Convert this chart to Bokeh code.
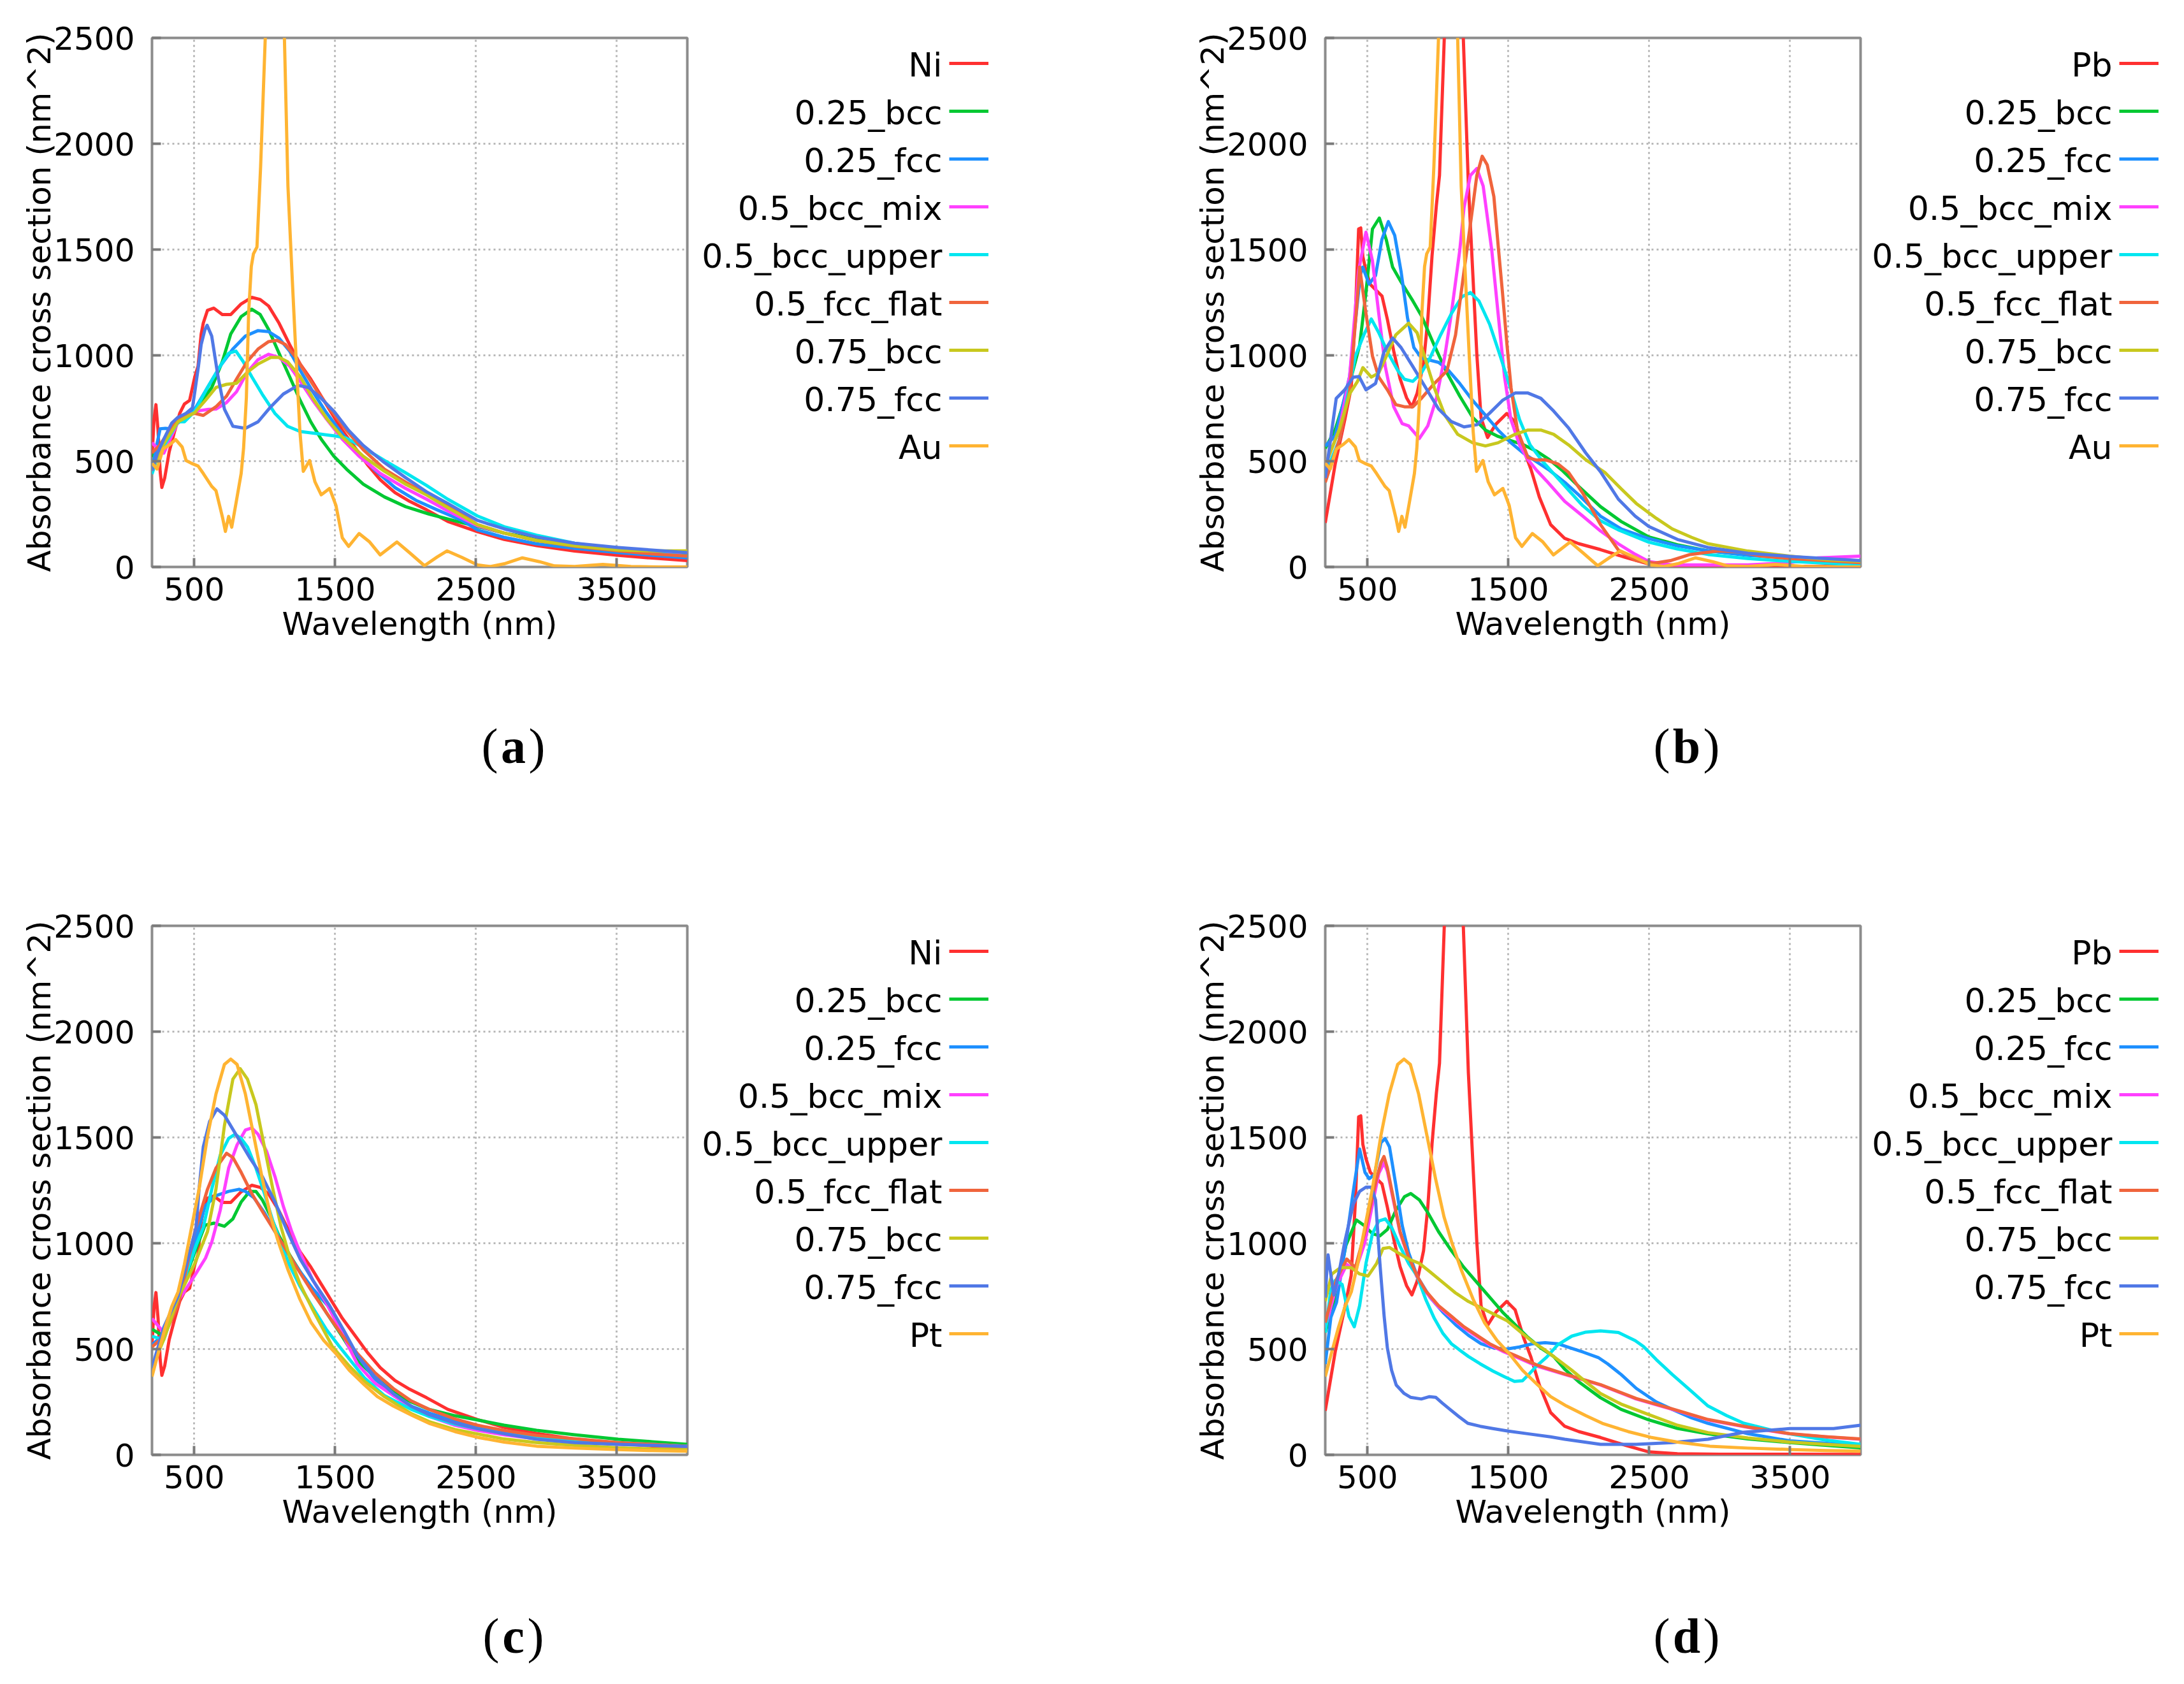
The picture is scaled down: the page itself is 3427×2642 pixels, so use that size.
from bokeh.plotting import figure
from bokeh.models import Range1d, FixedTicker, Legend, LegendItem, Label
from bokeh.core.properties import value
from bokeh.layouts import column, row
from bokeh.embed import file_html
from bokeh.resources import INLINE

# ---------------- data ----------------
X_TICKS = [500, 1500, 2500, 3500]
Y_TICKS = [0, 500, 1000, 1500, 2000, 2500]
ALLOY_NAMES = ["0.25_bcc", "0.25_fcc", "0.5_bcc_mix", "0.5_bcc_upper", "0.5_fcc_flat", "0.75_bcc", "0.75_fcc"]
PANEL_LETTERS = ["a", "b", "c", "d"]
BASE_NAMES = ["Ni", "Pb", "Ni", "Pb"]
NOBLE_NAMES = ["Au", "Au", "Pt", "Pt"]

NI_X = [200, 215, 228, 243, 258, 270, 290, 322, 360, 397, 430, 467, 504, 527, 549, 564, 594, 639, 699, 759, 833, 908, 968, 1028, 1102, 1177, 1252, 1327, 1401, 1476, 1551, 1641, 1730, 1820, 1925, 2029, 2149, 2300, 2510, 2700, 2930, 3200, 3510, 3750, 4000]
NI_Y = [520, 700, 767, 645, 450, 376, 420, 544, 640, 726, 770, 787, 899, 949, 1100, 1152, 1213, 1223, 1193, 1193, 1243, 1274, 1264, 1233, 1152, 1051, 959, 888, 807, 726, 645, 564, 483, 412, 351, 310, 270, 215, 167, 130, 101, 75, 55, 42, 30]

PB_X = [200, 271, 340, 384, 414, 437, 452, 467, 489, 520, 565, 603, 641, 686, 731, 777, 815, 852, 898, 928, 958, 989, 1011, 1045, 1100, 1180, 1216, 1246, 1276, 1306, 1352, 1412, 1488, 1548, 1609, 1660, 1720, 1800, 1900, 2000, 2154, 2332, 2497, 2700, 3000, 3500, 4000]
PB_Y = [208, 488, 700, 847, 1197, 1597, 1602, 1467, 1400, 1335, 1305, 1280, 1170, 1020, 890, 800, 756, 820, 965, 1170, 1470, 1710, 1850, 2500, 3400, 2500, 1805, 1405, 1005, 705, 612, 675, 725, 685, 552, 462, 330, 200, 135, 110, 82, 45, 14, 5, 3, 3, 2]

AU_X = [200, 236, 278, 330, 368, 414, 442, 480, 527, 564, 624, 654, 684, 702, 721, 744, 766, 796, 833, 850, 870, 886, 905, 920, 945, 971, 1004, 1050, 1090, 1140, 1165, 1195, 1222, 1250, 1274, 1319, 1357, 1401, 1461, 1506, 1551, 1596, 1670, 1745, 1820, 1939, 2029, 2134, 2224, 2294, 2400, 2510, 2600, 2700, 2829, 2950, 3057, 3200, 3400, 3600, 3800, 4000]
AU_Y = [490, 463, 557, 580, 602, 567, 503, 490, 477, 442, 381, 361, 280, 230, 168, 239, 188, 300, 442, 560, 800, 1200, 1420, 1479, 1512, 1891, 2500, 3300, 3600, 2500, 1800, 1370, 1000, 640, 452, 503, 402, 341, 371, 290, 138, 97, 158, 118, 57, 118, 67, 6, 47, 76, 45, 10, 2, 15, 43, 25, 5, 2, 12, 2, 0, 0]

PT_X = [200, 240, 295, 340, 385, 430, 475, 534, 594, 654, 714, 759, 804, 863, 923, 983, 1043, 1100, 1165, 1250, 1330, 1420, 1505, 1600, 1709, 1800, 1912, 2050, 2167, 2350, 2510, 2700, 2930, 3200, 3510, 3750, 4000]
PT_Y = [370, 470, 605, 700, 770, 900, 1055, 1255, 1505, 1705, 1845, 1870, 1845, 1705, 1505, 1305, 1125, 1000, 875, 735, 625, 540, 479, 400, 330, 275, 231, 185, 149, 110, 83, 60, 41, 32, 25, 20, 17]

# panel (a): Ni-Au alloys
A_BCC25_X = [200, 250, 300, 385, 450, 513, 560, 624, 699, 759, 833, 908, 968, 1028, 1102, 1177, 1252, 1327, 1401, 1491, 1581, 1700, 1850, 2000, 2167, 2350, 2510, 2700, 2930, 3200, 3510, 3750, 4000]
A_BCC25_Y = [521, 560, 620, 686, 715, 740, 790, 848, 970, 1101, 1183, 1218, 1193, 1122, 1010, 899, 787, 686, 604, 523, 462, 391, 331, 285, 250, 218, 191, 160, 134, 108, 84, 70, 59]
A_FCC25_X = [200, 236, 258, 295, 335, 414, 504, 594, 684, 774, 863, 953, 1028, 1102, 1177, 1252, 1342, 1431, 1521, 1626, 1775, 1925, 2074, 2224, 2400, 2510, 2700, 2930, 3200, 3510, 3750, 4000]
A_FCC25_Y = [455, 584, 653, 655, 653, 696, 746, 848, 949, 1030, 1091, 1117, 1112, 1081, 1020, 929, 828, 736, 655, 564, 462, 375, 315, 270, 220, 175, 140, 109, 88, 68, 55, 43]
A_MIX_X = [200, 240, 284, 385, 513, 600, 654, 729, 800, 875, 953, 1028, 1102, 1177, 1252, 1342, 1431, 1551, 1670, 1820, 2000, 2149, 2300, 2510, 2700, 2930, 3200, 3510, 3750, 4000]
A_MIX_Y = [587, 560, 538, 686, 736, 745, 746, 777, 828, 919, 980, 1005, 990, 949, 878, 787, 706, 604, 523, 442, 371, 320, 265, 195, 160, 125, 102, 84, 74, 68]
A_UP_X = [200, 240, 284, 385, 430, 504, 594, 684, 744, 796, 848, 908, 982, 1072, 1162, 1252, 1371, 1491, 1581, 1700, 1850, 2000, 2149, 2300, 2510, 2700, 2930, 3200, 3510, 3750, 4000]
A_UP_Y = [439, 520, 571, 686, 686, 736, 848, 949, 1010, 1020, 970, 899, 817, 726, 665, 640, 630, 620, 609, 564, 503, 445, 385, 320, 241, 190, 150, 112, 84, 65, 51]
A_FLAT_X = [200, 250, 300, 385, 450, 504, 564, 654, 729, 800, 875, 953, 1028, 1087, 1147, 1222, 1297, 1386, 1476, 1581, 1700, 1850, 2000, 2149, 2300, 2510, 2700, 2930, 3200, 3510, 3750, 4000]
A_FLAT_Y = [540, 571, 620, 703, 715, 726, 716, 757, 807, 888, 970, 1030, 1065, 1071, 1051, 990, 909, 817, 736, 645, 554, 462, 401, 345, 290, 200, 160, 125, 98, 76, 62, 51]
A_B75_X = [200, 250, 300, 385, 450, 504, 579, 654, 729, 800, 875, 953, 1043, 1102, 1162, 1252, 1342, 1446, 1551, 1700, 1850, 2000, 2149, 2300, 2510, 2700, 2930, 3200, 3510, 3750, 4000]
A_B75_Y = [455, 540, 600, 686, 710, 730, 787, 848, 863, 868, 919, 959, 990, 990, 970, 899, 797, 696, 614, 523, 452, 391, 340, 280, 200, 160, 125, 100, 80, 76, 76]
A_F75_X = [200, 240, 284, 340, 382, 442, 487, 504, 530, 549, 575, 591, 624, 669, 714, 774, 863, 953, 1043, 1132, 1237, 1312, 1401, 1491, 1596, 1700, 1850, 2000, 2149, 2300, 2510, 2700, 2930, 3200, 3510, 3750, 4000]
A_F75_Y = [455, 540, 604, 680, 706, 726, 752, 828, 950, 1051, 1120, 1142, 1091, 899, 746, 665, 655, 686, 757, 817, 858, 848, 797, 736, 645, 574, 493, 422, 355, 300, 220, 180, 142, 112, 92, 80, 68]

# panel (b): Pb-Au alloys
B_BCC25_X = [200, 271, 373, 444, 489, 535, 584, 633, 678, 738, 822, 883, 974, 1064, 1155, 1246, 1337, 1427, 1518, 1609, 1700, 1791, 1881, 2000, 2154, 2300, 2497, 2700, 2917, 3200, 3498, 3750, 4000]
B_BCC25_Y = [560, 650, 868, 1047, 1297, 1597, 1649, 1547, 1417, 1347, 1257, 1187, 1047, 917, 807, 707, 647, 617, 597, 577, 547, 507, 457, 380, 285, 215, 142, 105, 76, 58, 43, 34, 26]
B_FCC25_X = [200, 271, 373, 449, 466, 511, 557, 602, 648, 693, 738, 784, 829, 883, 943, 1004, 1064, 1155, 1246, 1337, 1427, 1518, 1609, 1700, 1791, 1900, 2000, 2154, 2300, 2497, 2700, 2917, 3200, 3498, 3750, 4000]
B_FCC25_Y = [571, 620, 900, 1380, 1417, 1337, 1377, 1547, 1632, 1567, 1397, 1177, 1037, 987, 977, 967, 937, 867, 787, 717, 647, 587, 537, 497, 457, 400, 340, 240, 180, 134, 100, 76, 55, 43, 35, 20]
B_MIX_X = [200, 300, 373, 436, 489, 535, 580, 626, 686, 746, 792, 868, 928, 989, 1049, 1095, 1155, 1185, 1230, 1276, 1321, 1382, 1427, 1473, 1518, 1579, 1639, 1700, 1772, 1900, 2027, 2154, 2281, 2400, 2497, 2663, 2900, 3200, 3500, 3694, 4000]
B_MIX_Y = [480, 650, 901, 1396, 1582, 1447, 1197, 947, 757, 677, 667, 607, 667, 797, 997, 1197, 1497, 1697, 1850, 1883, 1800, 1497, 1197, 897, 697, 577, 507, 457, 406, 310, 241, 170, 109, 60, 26, 10, 10, 10, 20, 43, 51]
B_UP_X = [200, 300, 373, 414, 474, 527, 580, 641, 716, 762, 822, 883, 943, 1019, 1095, 1170, 1231, 1291, 1367, 1442, 1518, 1579, 1654, 1745, 1850, 2027, 2150, 2281, 2497, 2700, 2917, 3200, 3498, 3750, 4000]
B_UP_Y = [439, 600, 860, 997, 1097, 1172, 1107, 1017, 927, 887, 877, 917, 987, 1097, 1197, 1277, 1297, 1257, 1147, 997, 837, 697, 577, 497, 420, 290, 220, 175, 117, 85, 59, 40, 26, 18, 10]
B_FLAT_X = [200, 300, 373, 420, 444, 489, 535, 580, 641, 701, 762, 822, 883, 974, 1064, 1125, 1185, 1246, 1276, 1314, 1350, 1397, 1430, 1458, 1490, 1519, 1564, 1639, 1700, 1760, 1851, 1927, 2027, 2154, 2281, 2408, 2536, 2650, 2790, 2994, 3150, 3299, 3500, 3750, 4000]
B_FLAT_Y = [400, 600, 830, 1200, 1417, 1197, 997, 897, 837, 767, 757, 757, 797, 867, 927, 1097, 1397, 1697, 1850, 1941, 1900, 1750, 1500, 1297, 1050, 847, 647, 517, 505, 507, 487, 447, 350, 200, 80, 30, 18, 30, 59, 76, 70, 51, 40, 30, 20]
B_B75_X = [200, 300, 373, 429, 467, 527, 580, 641, 701, 792, 852, 913, 974, 1049, 1140, 1246, 1337, 1427, 1548, 1639, 1730, 1821, 1927, 2048, 2184, 2300, 2408, 2550, 2663, 2800, 2917, 3200, 3498, 3750, 4000]
B_B75_Y = [480, 650, 818, 877, 942, 897, 917, 1007, 1097, 1152, 1107, 977, 847, 717, 627, 587, 572, 587, 627, 647, 647, 627, 577, 507, 447, 370, 300, 230, 180, 140, 110, 75, 51, 35, 26]
B_F75_X = [200, 278, 338, 399, 440, 489, 557, 617, 678, 738, 822, 913, 1004, 1095, 1185, 1276, 1367, 1458, 1548, 1639, 1730, 1821, 1927, 2048, 2154, 2281, 2400, 2497, 2700, 2917, 3200, 3498, 3750, 4000]
B_F75_Y = [420, 797, 837, 897, 900, 837, 867, 1017, 1082, 1037, 947, 847, 747, 687, 662, 672, 727, 787, 822, 822, 797, 737, 657, 540, 450, 320, 240, 191, 130, 92, 65, 50, 40, 30]

# panel (c): Ni-Pt alloys
C_BCC25_X = [200, 284, 385, 450, 513, 576, 639, 714, 774, 833, 893, 938, 983, 1043, 1102, 1177, 1252, 1342, 1440, 1550, 1658, 1780, 1912, 2040, 2167, 2350, 2510, 2700, 2930, 3200, 3510, 3750, 4000]
C_BCC25_Y = [594, 561, 743, 860, 974, 1085, 1095, 1080, 1115, 1195, 1245, 1245, 1205, 1125, 1035, 945, 865, 775, 670, 560, 446, 370, 297, 250, 215, 185, 165, 140, 116, 95, 74, 62, 50]
C_FCC25_X = [200, 284, 385, 450, 513, 576, 654, 744, 818, 863, 923, 998, 1073, 1162, 1252, 1342, 1461, 1560, 1658, 1780, 1912, 2040, 2167, 2350, 2510, 2700, 2930, 3200, 3510, 3750, 4000]
C_FCC25_Y = [520, 570, 743, 880, 1023, 1175, 1225, 1245, 1255, 1245, 1215, 1145, 1055, 955, 865, 785, 695, 580, 470, 360, 281, 230, 198, 160, 132, 105, 83, 68, 58, 50, 41]
C_MIX_X = [200, 284, 385, 513, 580, 624, 684, 744, 804, 863, 908, 953, 1013, 1073, 1132, 1192, 1252, 1342, 1431, 1530, 1658, 1780, 1912, 2040, 2167, 2350, 2510, 2700, 2930, 3200, 3510, 3750, 4000]
C_MIX_Y = [644, 578, 726, 858, 930, 1005, 1155, 1355, 1465, 1535, 1545, 1515, 1435, 1315, 1175, 1055, 955, 825, 725, 600, 429, 340, 281, 225, 182, 140, 116, 95, 75, 62, 50, 45, 40]
C_UP_X = [200, 284, 385, 513, 564, 624, 684, 744, 789, 833, 878, 938, 998, 1058, 1117, 1177, 1252, 1342, 1440, 1530, 1709, 1850, 2040, 2167, 2350, 2510, 2700, 2930, 3200, 3510, 3750, 4000]
C_UP_Y = [560, 545, 743, 990, 1075, 1255, 1415, 1495, 1515, 1495, 1455, 1355, 1235, 1105, 995, 895, 795, 695, 590, 512, 363, 280, 215, 182, 145, 124, 105, 85, 70, 58, 50, 41]
C_FLAT_X = [200, 284, 385, 504, 594, 654, 729, 774, 833, 908, 998, 1073, 1147, 1237, 1342, 1440, 1550, 1658, 1780, 1912, 2040, 2167, 2350, 2510, 2700, 2930, 3200, 3510, 3750, 4000]
C_FLAT_Y = [510, 560, 706, 1055, 1255, 1355, 1425, 1405, 1335, 1235, 1135, 1055, 975, 875, 765, 670, 565, 479, 390, 314, 255, 215, 170, 140, 115, 92, 76, 58, 50, 41]
C_B75_X = [200, 284, 385, 504, 594, 654, 714, 774, 826, 878, 938, 998, 1058, 1117, 1177, 1252, 1342, 1480, 1600, 1709, 1850, 2040, 2167, 2350, 2510, 2700, 2930, 3200, 3510, 3750, 4000]
C_B75_Y = [415, 545, 740, 905, 1055, 1255, 1555, 1775, 1825, 1775, 1655, 1455, 1255, 1075, 935, 805, 685, 512, 420, 347, 275, 195, 157, 120, 99, 75, 58, 45, 33, 28, 25]
C_F75_X = [200, 284, 385, 513, 534, 564, 609, 661, 714, 804, 893, 983, 1073, 1162, 1252, 1342, 1461, 1560, 1658, 1780, 1912, 2040, 2167, 2350, 2510, 2700, 2930, 3200, 3510, 3750, 4000]
C_F75_Y = [410, 604, 750, 1073, 1255, 1455, 1575, 1635, 1605, 1505, 1405, 1315, 1195, 1055, 925, 825, 705, 590, 470, 370, 290, 230, 190, 150, 124, 100, 74, 58, 50, 45, 40]

# panel (d): Pb-Pt alloys
D_BCC25_X = [200, 271, 347, 421, 474, 535, 588, 641, 701, 762, 807, 868, 928, 1004, 1095, 1185, 1276, 1367, 1458, 1548, 1639, 1730, 1821, 1900, 2000, 2154, 2300, 2497, 2700, 2917, 3200, 3498, 3750, 4000]
D_BCC25_Y = [578, 743, 990, 1110, 1085, 1045, 1035, 1065, 1155, 1220, 1235, 1205, 1145, 1055, 965, 885, 815, 745, 675, 615, 555, 505, 465, 405, 345, 270, 215, 165, 125, 99, 75, 58, 45, 33]
D_FCC25_X = [200, 240, 280, 347, 399, 444, 482, 512, 550, 595, 625, 656, 701, 746, 792, 852, 943, 1034, 1125, 1216, 1306, 1397, 1488, 1579, 1670, 1761, 1851, 1942, 2033, 2138, 2205, 2300, 2408, 2550, 2663, 2800, 2917, 3200, 3498, 3750, 4000]
D_FCC25_Y = [429, 650, 720, 1000, 1245, 1445, 1335, 1305, 1325, 1475, 1495, 1455, 1275, 1085, 955, 845, 745, 675, 615, 565, 525, 505, 500, 510, 525, 530, 525, 505, 485, 460, 430, 380, 314, 250, 215, 175, 149, 100, 66, 55, 41]
D_MIX_X = [200, 280, 353, 414, 480, 540, 580, 617, 641, 686, 731, 792, 852, 913, 1004, 1095, 1185, 1276, 1367, 1458, 1548, 1700, 1900, 2154, 2408, 2663, 2917, 3200, 3498, 3750, 4000]
D_MIX_Y = [600, 800, 900, 870, 1000, 1200, 1330, 1380, 1340, 1195, 1050, 930, 840, 770, 700, 650, 600, 560, 520, 490, 465, 420, 380, 330, 264, 215, 165, 130, 99, 85, 74]
D_UP_X = [200, 240, 271, 320, 368, 406, 444, 489, 535, 580, 626, 671, 731, 792, 852, 913, 974, 1034, 1095, 1155, 1216, 1300, 1390, 1470, 1543, 1600, 1645, 1700, 1772, 1850, 1950, 2050, 2154, 2281, 2400, 2459, 2550, 2663, 2800, 2917, 3050, 3172, 3350, 3498, 3750, 4000]
D_UP_Y = [578, 780, 825, 805, 655, 605, 705, 905, 1045, 1105, 1115, 1075, 985, 905, 845, 735, 645, 575, 525, 495, 465, 430, 396, 370, 347, 350, 380, 420, 462, 520, 561, 580, 586, 578, 540, 512, 450, 380, 300, 231, 185, 149, 120, 99, 70, 50]
D_FLAT_X = [200, 280, 353, 414, 480, 557, 595, 617, 641, 686, 731, 792, 852, 913, 1004, 1095, 1185, 1276, 1367, 1458, 1548, 1700, 1900, 2154, 2408, 2663, 2917, 3200, 3498, 3750, 4000]
D_FLAT_Y = [625, 830, 925, 885, 1050, 1285, 1380, 1410, 1355, 1205, 1055, 935, 845, 775, 705, 655, 605, 565, 525, 495, 470, 425, 382, 332, 266, 217, 167, 132, 100, 86, 75]
D_B75_X = [200, 247, 308, 384, 444, 504, 565, 610, 656, 716, 792, 868, 943, 1034, 1125, 1216, 1306, 1397, 1488, 1579, 1670, 1761, 1850, 1950, 2050, 2154, 2300, 2497, 2700, 2917, 3200, 3498, 3750, 4000]
D_B75_Y = [726, 855, 885, 885, 855, 845, 905, 975, 980, 955, 925, 905, 865, 815, 765, 725, 695, 665, 635, 585, 535, 495, 450, 400, 345, 290, 240, 190, 140, 105, 80, 60, 50, 40]
D_F75_X = [200, 210, 220, 240, 262, 300, 338, 399, 444, 489, 527, 557, 588, 618, 641, 671, 704, 760, 805, 882, 940, 984, 1030, 1085, 1150, 1212, 1300, 1390, 1500, 1645, 1800, 1900, 2154, 2408, 2663, 2917, 3172, 3498, 3808, 4000]
D_F75_Y = [743, 860, 945, 850, 755, 870, 1005, 1185, 1245, 1265, 1265, 1205, 905, 655, 505, 400, 330, 290, 272, 264, 275, 272, 245, 215, 180, 149, 135, 124, 112, 99, 85, 74, 50, 50, 58, 74, 107, 124, 124, 140]

# ---------------- styling ----------------
SERIES_COLORS = ["#ff3030", "#00c832", "#1e90ff", "#ff40ff", "#00e6f0",
                 "#f0643c", "#c8c81e", "#5078e6", "#ffb432"]
FONT = "DejaVu Sans"
FS = "50px"
KEY_FS = "52px"

PANEL_DATA = [
    (NI_X, NI_Y, [(A_BCC25_X, A_BCC25_Y), (A_FCC25_X, A_FCC25_Y), (A_MIX_X, A_MIX_Y), (A_UP_X, A_UP_Y),
                  (A_FLAT_X, A_FLAT_Y), (A_B75_X, A_B75_Y), (A_F75_X, A_F75_Y)], AU_X, AU_Y),
    (PB_X, PB_Y, [(B_BCC25_X, B_BCC25_Y), (B_FCC25_X, B_FCC25_Y), (B_MIX_X, B_MIX_Y), (B_UP_X, B_UP_Y),
                  (B_FLAT_X, B_FLAT_Y), (B_B75_X, B_B75_Y), (B_F75_X, B_F75_Y)], AU_X, AU_Y),
    (NI_X, NI_Y, [(C_BCC25_X, C_BCC25_Y), (C_FCC25_X, C_FCC25_Y), (C_MIX_X, C_MIX_Y), (C_UP_X, C_UP_Y),
                  (C_FLAT_X, C_FLAT_Y), (C_B75_X, C_B75_Y), (C_F75_X, C_F75_Y)], PT_X, PT_Y),
    (PB_X, PB_Y, [(D_BCC25_X, D_BCC25_Y), (D_FCC25_X, D_FCC25_Y), (D_MIX_X, D_MIX_Y), (D_UP_X, D_UP_Y),
                  (D_FLAT_X, D_FLAT_Y), (D_B75_X, D_B75_Y), (D_F75_X, D_F75_Y)], PT_X, PT_Y),
]

LETTER_HALF = {"a": 24, "b": 26, "c": 22, "d": 26}
PLOT_H = 1039
PLOT_W = 238 + 840 + 9
FRAME_H = 830
ROW_H = 62
ROW_GAP = 13
LEGEND_H = 9 * ROW_H + 8 * ROW_GAP
KEY_TOP = 9                    # gap between frame top and the key block
KEY_X = [402, 397, 402, 397]   # start of the key lines inside each key figure


def series_of(idx):
    base_x, base_y, alloys, noble_x, noble_y = PANEL_DATA[idx]
    names = [BASE_NAMES[idx]] + ALLOY_NAMES + [NOBLE_NAMES[idx]]
    xs_list = [base_x] + [a[0] for a in alloys] + [noble_x]
    ys_list = [base_y] + [a[1] for a in alloys] + [noble_y]
    return list(zip(names, xs_list, ys_list, SERIES_COLORS))


def make_plot(idx):
    p = figure(width=PLOT_W, height=PLOT_H, output_backend="svg", toolbar_location=None,
               x_range=Range1d(200, 4000), y_range=Range1d(0, 2500),
               min_border_left=238, min_border_right=9,
               min_border_top=59, min_border_bottom=PLOT_H - 59 - FRAME_H,
               x_axis_label="Wavelength (nm)",
               y_axis_label="Absorbance cross section (nm^2)")
    p.background_fill_color = "white"
    p.border_fill_color = "white"
    p.outline_line_color = "#8c8c8c"
    p.outline_line_width = 4

    for ax, ticks in ((p.xaxis[0], X_TICKS), (p.yaxis[0], Y_TICKS)):
        ax.ticker = FixedTicker(ticks=ticks, minor_ticks=[])
        ax.axis_line_color = None
        ax.major_tick_in = 14
        ax.major_tick_out = 0
        ax.major_tick_line_color = "#7a7a7a"
        ax.major_tick_line_width = 4
        ax.minor_tick_line_color = None
        ax.major_label_text_font = FONT
        ax.major_label_text_font_size = FS
        ax.major_label_text_color = "black"
        ax.axis_label_text_font = FONT
        ax.axis_label_text_font_size = FS
        ax.axis_label_text_font_style = "normal"
        ax.axis_label_text_color = "black"
    p.yaxis[0].major_label_standoff = 27
    p.yaxis[0].axis_label_standoff = -10
    p.xaxis[0].major_label_standoff = 16
    p.xaxis[0].axis_label_standoff = 5

    p.xgrid.ticker = FixedTicker(ticks=X_TICKS, minor_ticks=[])
    p.ygrid.ticker = FixedTicker(ticks=Y_TICKS, minor_ticks=[])
    p.grid.grid_line_color = "#b8b8b8"
    p.grid.grid_line_dash = "3 5"
    p.grid.grid_line_width = 3

    for name, xs, ys, color in series_of(idx):
        assert len(xs) == len(ys), name
        p.line(xs, ys, line_color=color, line_width=5, line_join="round")
    return p


def make_legend_fig(idx, width):
    # key figure: the same series drawn through a range that keeps them out of view,
    # so that only the key (inside this figure's frame) is visible.
    # Its frame is aligned with the plot frame (830 px tall) by the row layout.
    lf = figure(width=width, height=PLOT_H, output_backend="svg", toolbar_location=None,
                x_range=Range1d(-10, -5), y_range=Range1d(0, 2500),
                x_axis_type=None, y_axis_type=None, min_border=0)
    lf.outline_line_color = None
    lf.background_fill_color = "white"
    lf.border_fill_color = "white"
    lf.grid.visible = False
    items = []
    key_x = KEY_X[idx]
    for i, (name, xs, ys, color) in enumerate(series_of(idx)):
        r = lf.line(xs, ys, line_color=color, line_width=5)
        items.append(LegendItem(label=value(""), renderers=[r]))
        # gnuplot-style key: name right-aligned, just left of its sample line
        lf.add_layout(Label(x=key_x - 11,
                            y=FRAME_H - KEY_TOP - ROW_H / 2 - i * (ROW_H + ROW_GAP) - 2,
                            x_units="screen", y_units="screen", text=name,
                            text_font=FONT, text_font_size=KEY_FS, text_color="black",
                            text_align="right", text_baseline="middle"))
    legend = Legend(items=items, location=(key_x, FRAME_H - KEY_TOP - LEGEND_H),
                    orientation="vertical",
                    glyph_width=62, glyph_height=ROW_H, label_height=ROW_H, label_width=0,
                    spacing=ROW_GAP, padding=0, margin=0, label_standoff=0,
                    label_text_font_size="10px",
                    border_line_color=None, background_fill_alpha=0)
    lf.add_layout(legend)
    return lf


def make_caption(idx, width, height, label_y):
    c = figure(width=width, height=height, output_backend="svg", toolbar_location=None,
               x_range=Range1d(0, width), y_range=Range1d(0, height),
               x_axis_type=None, y_axis_type=None, min_border=0)
    c.outline_line_color = None
    c.background_fill_color = "white"
    c.border_fill_color = "white"
    c.grid.visible = False
    letter = PANEL_LETTERS[idx]
    half = LETTER_HALF[letter]
    cx = 805
    for txt, x, align, style in (("(", cx - half, "right", "normal"),
                                  (letter, cx, "center", "bold"),
                                  (")", cx + half, "left", "normal")):
        c.add_layout(Label(x=x, y=label_y, text=txt,
                           text_font="Liberation Serif", text_font_size="78px",
                           text_font_style=style, text_align=align,
                           text_baseline="middle", text_color="black"))
    return c


W_LEFT = 1841
W_RIGHT = 1560

cells = []
for idx in range(4):
    total_w = W_LEFT if idx % 2 == 0 else W_RIGHT
    cap_h = 354 if idx < 2 else 191
    cap_y = 223 if idx < 2 else 57
    top = row(make_plot(idx), make_legend_fig(idx, total_w - PLOT_W))
    cells.append(column(top, make_caption(idx, total_w, cap_h, cap_y)))

layout = column(row(cells[0], cells[1]), row(cells[2], cells[3]))

with open("out.html", "w") as f:
    f.write(file_html(layout, INLINE))
